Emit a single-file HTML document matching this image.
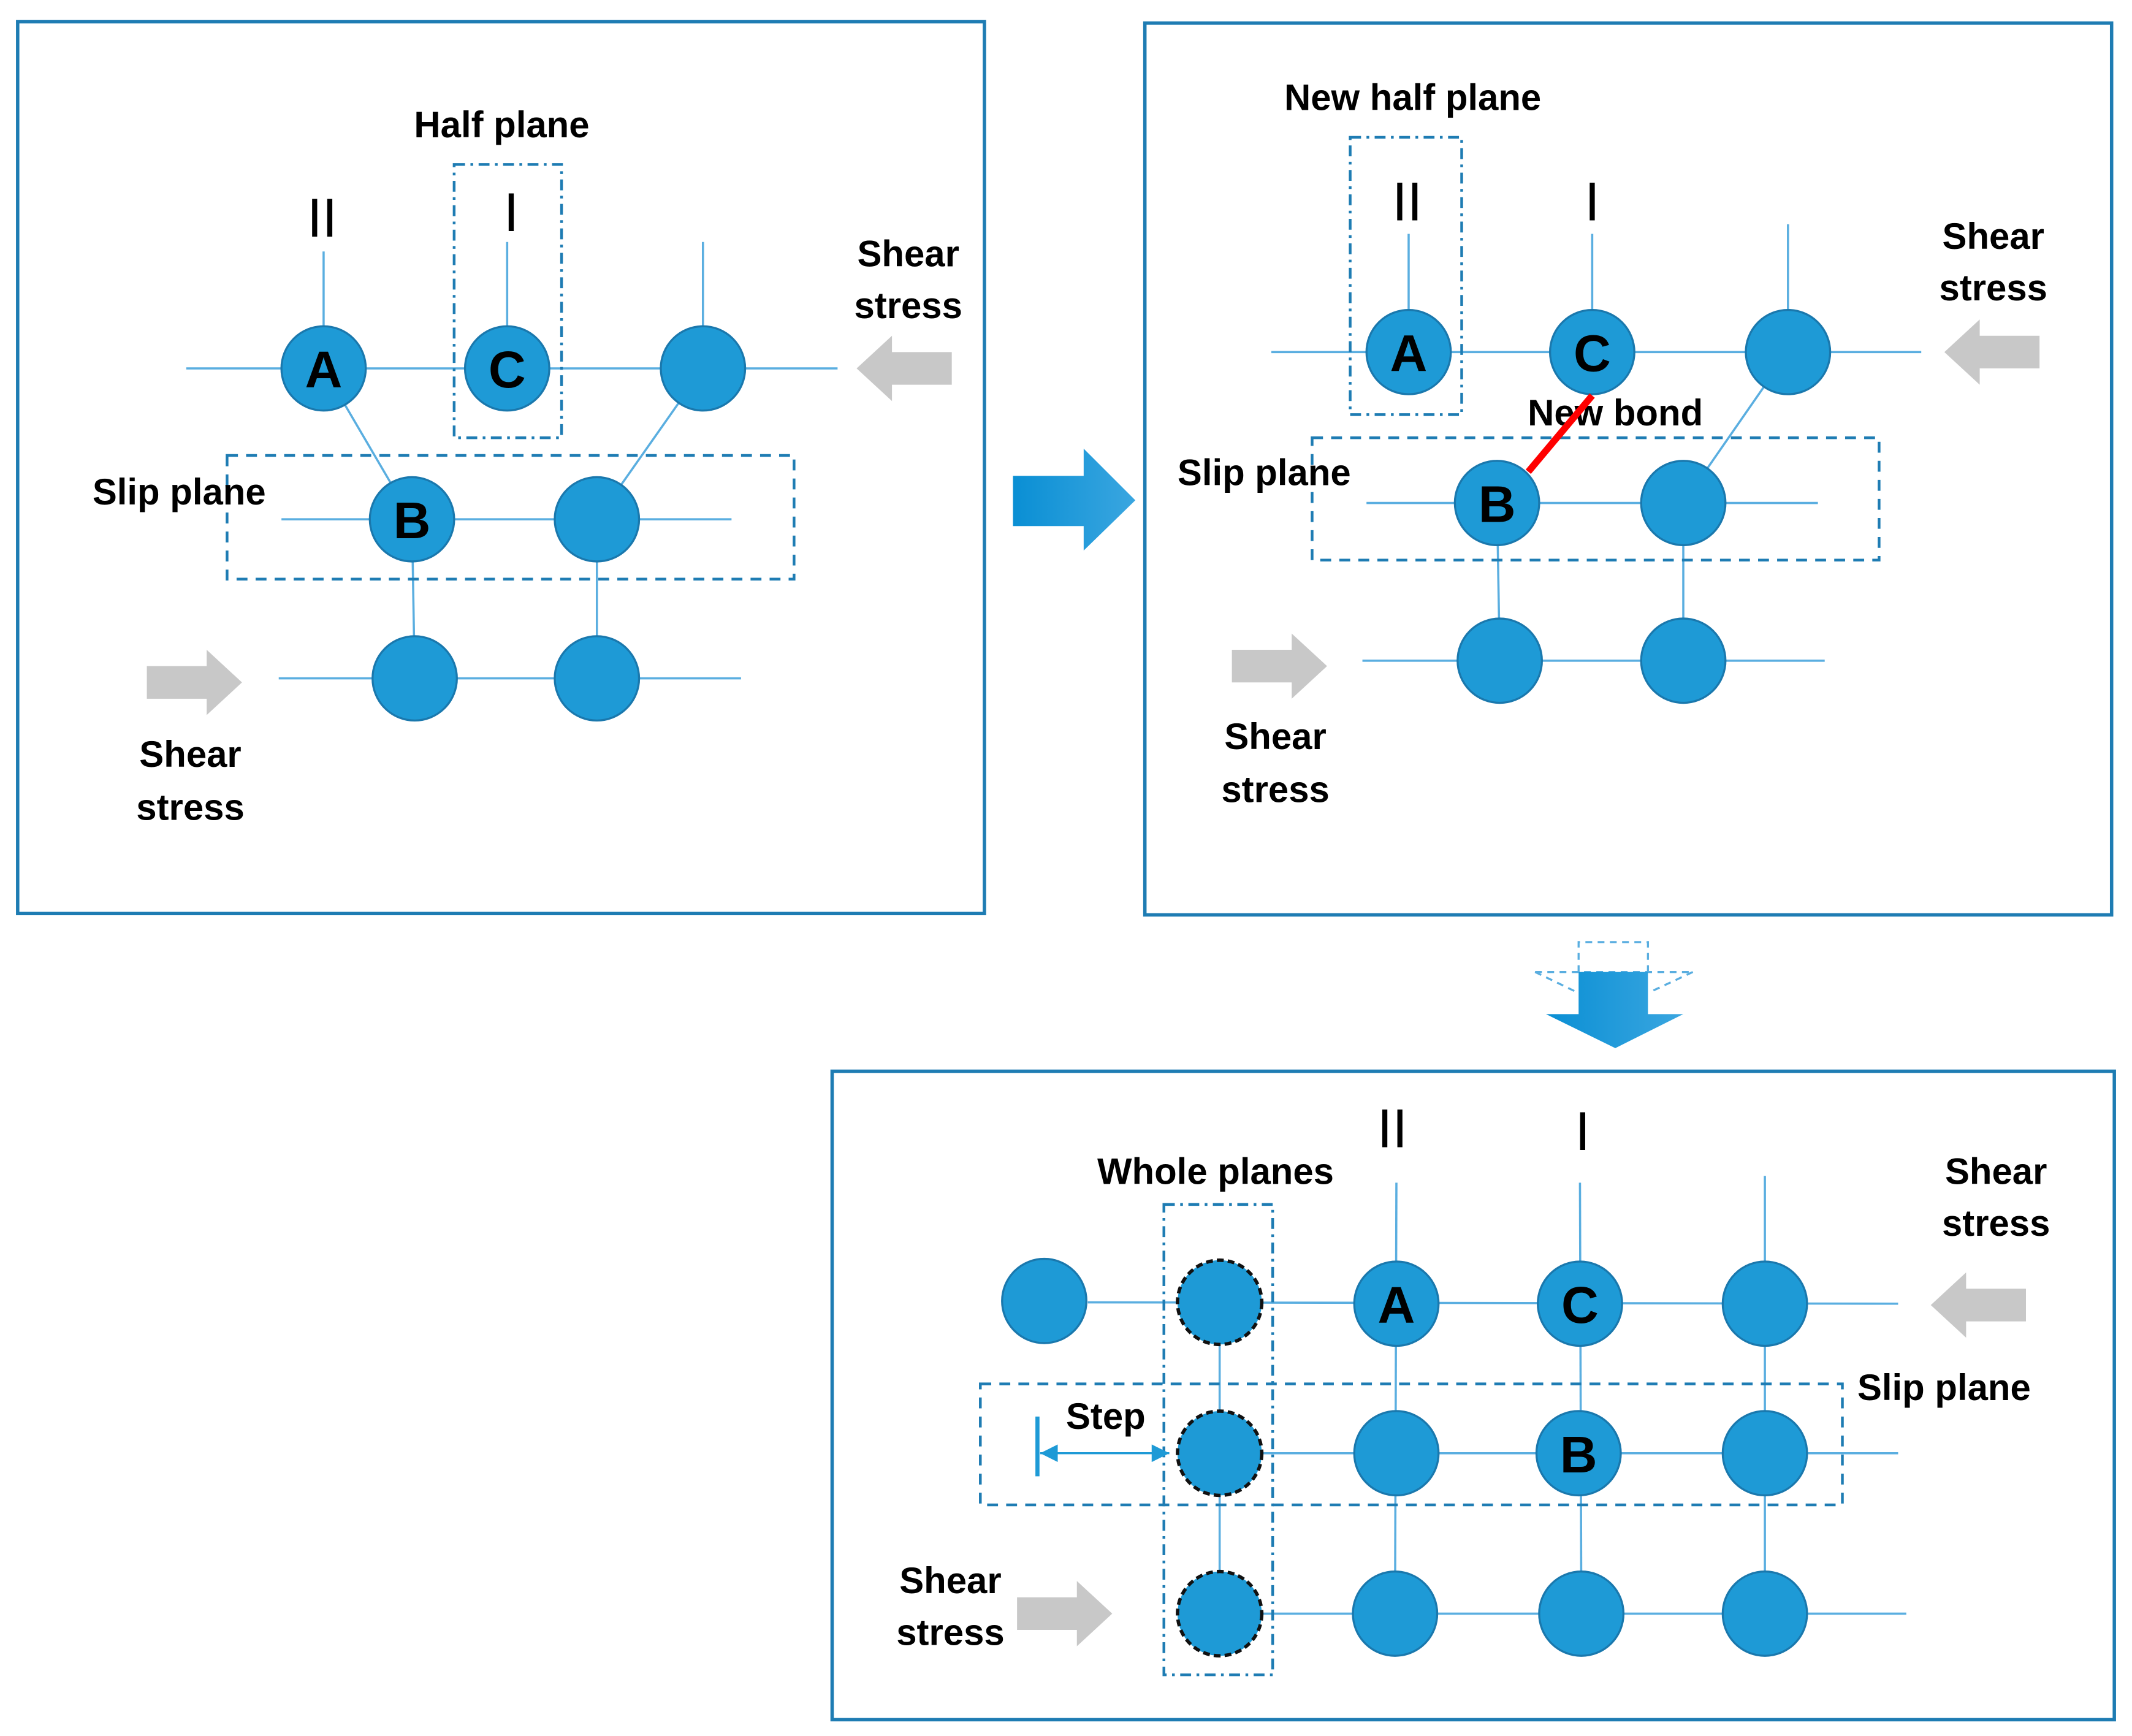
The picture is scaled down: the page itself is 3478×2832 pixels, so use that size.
<!DOCTYPE html>
<html><head><meta charset="utf-8"><style>
html,body{margin:0;padding:0;background:#fff}
svg{display:block}
text{font-family:"Liberation Sans",sans-serif;fill:#000}
.lb{font-size:27px;font-weight:bold}
.nd{font-size:38px;font-weight:bold;text-anchor:middle}
.rn{font-size:40px;text-anchor:middle}
</style></head><body>
<svg width="3478" height="2832" viewBox="0 0 1568 1277" preserveAspectRatio="none" xmlns="http://www.w3.org/2000/svg">
<defs>
<linearGradient id="g" x1="0" x2="1"><stop offset="0" stop-color="#0a8fd4"/><stop offset="1" stop-color="#3aa6e0"/></linearGradient>
<marker id="ah" viewBox="0 0 10 10" refX="10" refY="5" markerUnits="userSpaceOnUse" markerWidth="13" markerHeight="13" orient="auto-start-reverse"><path d="M0,0L10,5L0,10z" fill="#1e9ad6"/></marker>
</defs>
<g fill="none" stroke="#1e7cb3" stroke-width="2.5">
<rect x="13" y="16" width="711" height="656"/>
<rect x="842" y="17" width="711" height="656"/>
<rect x="612" y="788" width="943" height="477"/>
</g>
<!-- Panel 1 -->
<g stroke="#5aaee0" stroke-width="1.6" fill="none">
<line x1="137" y1="271" x2="616" y2="271"/>
<line x1="238" y1="271" x2="238" y2="185"/>
<line x1="373" y1="271" x2="373" y2="178"/>
<line x1="517" y1="271" x2="517" y2="178"/>
<line x1="238" y1="271" x2="303" y2="382"/>
<line x1="517" y1="271" x2="439" y2="382"/>
<line x1="207" y1="382" x2="538" y2="382"/>
<line x1="303" y1="382" x2="305" y2="499"/>
<line x1="439" y1="382" x2="439" y2="499"/>
<line x1="205" y1="499" x2="545" y2="499"/>
</g>
<g fill="#1e9ad6" stroke="#1a78ad" stroke-width="1.5">
<circle cx="238" cy="271" r="31"/><circle cx="373" cy="271" r="31"/><circle cx="517" cy="271" r="31"/>
<circle cx="303" cy="382" r="31"/><circle cx="439" cy="382" r="31"/>
<circle cx="305" cy="499" r="31"/><circle cx="439" cy="499" r="31"/>
</g>
<g fill="none" stroke="#1e7cb3" stroke-width="2">
<rect x="167" y="335" width="417" height="91" stroke-dasharray="8,6"/>
<rect x="334" y="121" width="79" height="201" stroke-dasharray="8,4,2,4"/>
</g>
<text class="nd" x="238" y="285">A</text><text class="nd" x="373" y="285">C</text><text class="nd" x="303" y="396">B</text>
<text class="lb" x="369" y="101" text-anchor="middle">Half plane</text>
<text class="rn" x="237" y="174">II</text><text class="rn" x="376" y="170">I</text>
<text class="lb" x="668" y="196" text-anchor="middle">Shear</text><text class="lb" x="668" y="234" text-anchor="middle">stress</text>
<text class="lb" x="68" y="371">Slip plane</text>
<text class="lb" x="140" y="564" text-anchor="middle">Shear</text><text class="lb" x="140" y="603" text-anchor="middle">stress</text>
<g fill="#c8c8c8">
<path d="M700,259H656V247L630,271L656,295V283H700Z"/>
<path d="M108,490H152V478L178,502L152,526V514H108Z"/>
</g>
<path d="M745,350H797V330L835,368L797,405V387H745Z" fill="url(#g)"/>
<!-- Panel 2 -->
<g stroke="#5aaee0" stroke-width="1.6" fill="none">
<line x1="935" y1="259" x2="1413" y2="259"/>
<line x1="1036" y1="259" x2="1036" y2="172"/>
<line x1="1171" y1="259" x2="1171" y2="172"/>
<line x1="1315" y1="259" x2="1315" y2="165"/>
<line x1="1315" y1="259" x2="1238" y2="370"/>
<line x1="1005" y1="370" x2="1337" y2="370"/>
<line x1="1101" y1="370" x2="1103" y2="486"/>
<line x1="1238" y1="370" x2="1238" y2="486"/>
<line x1="1002" y1="486" x2="1342" y2="486"/>
</g>
<g fill="#1e9ad6" stroke="#1a78ad" stroke-width="1.5">
<circle cx="1036" cy="259" r="31"/><circle cx="1171" cy="259" r="31"/><circle cx="1315" cy="259" r="31"/>
<circle cx="1101" cy="370" r="31"/><circle cx="1238" cy="370" r="31"/>
<circle cx="1103" cy="486" r="31"/><circle cx="1238" cy="486" r="31"/>
</g>
<g fill="none" stroke="#1e7cb3" stroke-width="2">
<rect x="965" y="322" width="417" height="90" stroke-dasharray="8,6"/>
<rect x="993" y="101" width="82" height="204" stroke-dasharray="8,4,2,4"/>
</g>
<text class="lb" x="1188" y="313" text-anchor="middle">New bond</text>
<line x1="1124" y1="347" x2="1171" y2="291" stroke="#ff0000" stroke-width="5"/>
<text class="nd" x="1036" y="273">A</text><text class="nd" x="1171" y="273">C</text><text class="nd" x="1101" y="384">B</text>
<text class="lb" x="1039" y="81" text-anchor="middle">New half plane</text>
<text class="rn" x="1035" y="162">II</text><text class="rn" x="1171" y="162">I</text>
<text class="lb" x="1466" y="183" text-anchor="middle">Shear</text><text class="lb" x="1466" y="221" text-anchor="middle">stress</text>
<text class="lb" x="866" y="357">Slip plane</text>
<text class="lb" x="938" y="551" text-anchor="middle">Shear</text><text class="lb" x="938" y="590" text-anchor="middle">stress</text>
<g fill="#c8c8c8">
<path d="M1500,247H1456V235L1430,259L1456,283V271H1500Z"/>
<path d="M906,478H950V466L976,490L950,514V502H906Z"/>
</g>
<!-- Down arrow -->
<g fill="none" stroke="#5aaee0" stroke-width="1.5" stroke-dasharray="5,4">
<path d="M1161,715V693H1212V715"/>
<path d="M1129,715H1245"/>
<path d="M1129,715L1160,730M1245,715L1213,730"/>
</g>
<path d="M1161,715H1212V746H1238L1188,771L1137,746H1161Z" fill="url(#g)"/>
<!-- Panel 3 -->
<g stroke="#5aaee0" stroke-width="1.6" fill="none">
<line x1="800" y1="958" x2="1396" y2="959"/>
<line x1="929" y1="1069" x2="1396" y2="1069"/>
<line x1="929" y1="1187" x2="1402" y2="1187"/>
<line x1="897" y1="959" x2="897" y2="1187"/>
<line x1="1027" y1="870" x2="1026" y2="1187"/>
<line x1="1162" y1="870" x2="1163" y2="1187"/>
<line x1="1298" y1="865" x2="1298" y2="1187"/>
</g>
<g fill="#1e9ad6" stroke="#1a78ad" stroke-width="1.5">
<circle cx="768" cy="957" r="31"/>
<circle cx="1027" cy="959" r="31"/><circle cx="1162" cy="959" r="31"/><circle cx="1298" cy="959" r="31"/>
<circle cx="1027" cy="1069" r="31"/><circle cx="1161" cy="1069" r="31"/><circle cx="1298" cy="1069" r="31"/>
<circle cx="1026" cy="1187" r="31"/><circle cx="1163" cy="1187" r="31"/><circle cx="1298" cy="1187" r="31"/>
</g>
<g fill="#1e9ad6" stroke="#111" stroke-width="2.5" stroke-dasharray="5,3">
<circle cx="897" cy="958" r="31"/><circle cx="897" cy="1069" r="31"/><circle cx="897" cy="1187" r="31"/>
</g>
<g fill="none" stroke="#1e7cb3" stroke-width="2">
<rect x="721" y="1018" width="634" height="89" stroke-dasharray="8,6"/>
<rect x="856" y="886" width="80" height="346" stroke-dasharray="8,4,2,4"/>
</g>
<line x1="763" y1="1042" x2="763" y2="1086" stroke="#1e9ad6" stroke-width="3"/>
<line x1="765" y1="1069" x2="860" y2="1069" stroke="#1e9ad6" stroke-width="1.5" marker-start="url(#ah)" marker-end="url(#ah)"/>
<text class="nd" x="1027" y="973">A</text><text class="nd" x="1162" y="973">C</text><text class="nd" x="1161" y="1083">B</text>
<text class="lb" x="894" y="871" text-anchor="middle">Whole planes</text>
<text class="rn" x="1024" y="844">II</text><text class="rn" x="1164" y="846">I</text>
<text class="lb" x="1468" y="871" text-anchor="middle">Shear</text><text class="lb" x="1468" y="909" text-anchor="middle">stress</text>
<text class="lb" x="1366" y="1030">Slip plane</text>
<text class="lb" x="784" y="1051">Step</text>
<text class="lb" x="699" y="1172" text-anchor="middle">Shear</text><text class="lb" x="699" y="1210" text-anchor="middle">stress</text>
<g fill="#c8c8c8">
<path d="M1490,948H1446V936L1420,960L1446,984V972H1490Z"/>
<path d="M748,1175H792V1163L818,1187L792,1211V1199H748Z"/>
</g>
</svg>
</body></html>
